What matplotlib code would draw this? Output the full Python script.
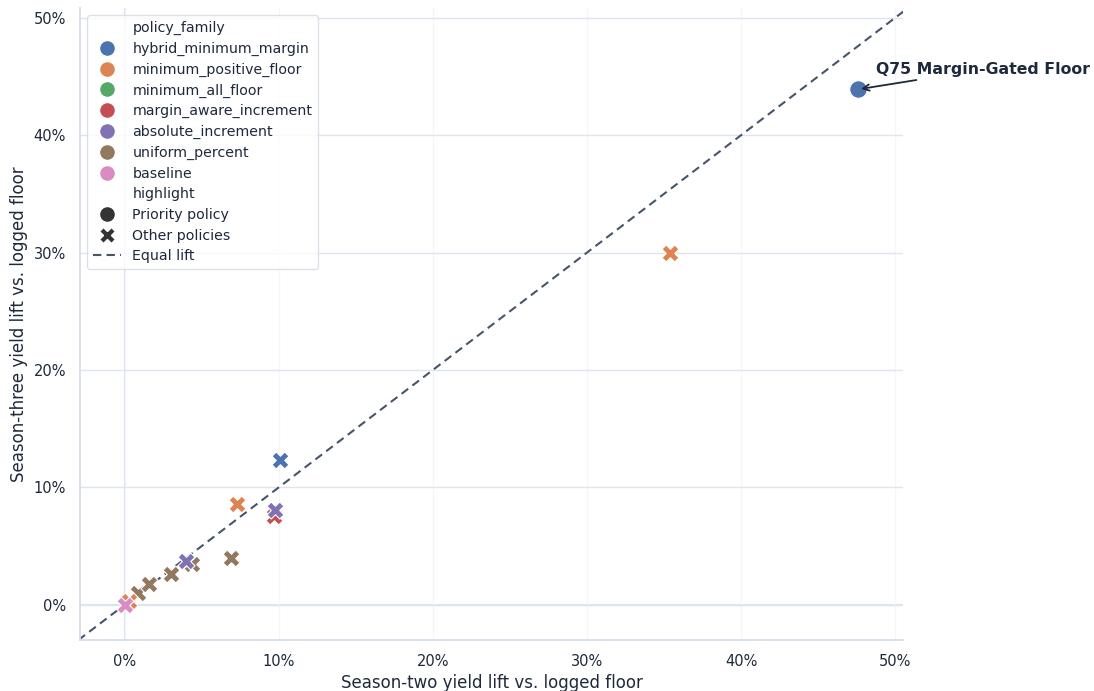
import matplotlib.pyplot as plt
from matplotlib.lines import Line2D
from matplotlib.ticker import FuncFormatter

families = ["hybrid_minimum_margin", "minimum_positive_floor", "minimum_all_floor",
            "margin_aware_increment", "absolute_increment", "uniform_percent", "baseline"]
colors = ["#4C72B0", "#DD8452", "#55A868", "#C44E52", "#8172B3", "#937860", "#DA8BC3"]

# one entry per policy, in drawing order
point_family = ["uniform_percent", "uniform_percent", "uniform_percent", "uniform_percent",
                "uniform_percent", "margin_aware_increment", "absolute_increment",
                "absolute_increment", "minimum_positive_floor", "minimum_positive_floor",
                "hybrid_minimum_margin", "minimum_all_floor", "minimum_positive_floor",
                "baseline", "hybrid_minimum_margin"]
season_two = [0.85, 1.6, 3.0, 4.4, 6.9, 9.7, 9.75, 4.0, 7.3, 35.4, 10.1, 0.0, 0.25, 0.0, 47.6]
season_three = [1.0, 1.8, 2.6, 3.5, 4.0, 7.6, 8.1, 3.7, 8.6, 30.0, 12.3, 0.0, 0.3, 0.0, 43.9]
highlight = ["Other policies"] * 14 + ["Priority policy"]
priority_label = "Q75 Margin-Gated Floor"

text_color = "#1e293b"
fig = plt.figure(figsize=(10.94, 6.91), dpi=100)
ax = fig.add_axes([0.0731, 0.0738, 0.7523, 0.9142])

ax.set_xlim(-2.9, 50.5)
ax.set_ylim(-3.0, 50.8)

# grid and reference lines
ax.set_axisbelow(True)
ax.grid(axis="y", color="#dfe5ef", linewidth=1.0)
ax.grid(axis="x", color="#f5f6f8", linewidth=1.0)
ax.axhline(0, color="#d9e0ec", linewidth=1.3, zorder=0.5)
ax.axvline(0, color="#d6dcee", linewidth=1.5, zorder=0.5)
for side in ["top", "right"]:
    ax.spines[side].set_visible(False)
for side in ["left", "bottom"]:
    ax.spines[side].set_color("#d5ddea")
    ax.spines[side].set_linewidth(1.3)

ax.plot([-3.0, 51.0], [-3.0, 51.0], color="#475569", linestyle="--", linewidth=1.5,
        dashes=(4, 2.5), zorder=1)

color_of = dict(zip(families, colors))
for fam, x, y, hl in zip(point_family, season_two, season_three, highlight):
    if hl == "Priority policy":
        ax.scatter(x, y, s=160, marker="o", color=color_of[fam], edgecolor="white",
                   linewidth=0.8, zorder=3)
    else:
        ax.scatter(x, y, s=150, marker="X", color=color_of[fam], edgecolor="white",
                   linewidth=0.8, zorder=2)

ax.annotate(priority_label, xy=(season_two[-1], season_three[-1]), xytext=(13, 9),
            textcoords="offset points", fontsize=11.3, fontweight="bold", color=text_color,
            ha="left", va="bottom",
            arrowprops=dict(arrowstyle="->", color=text_color, linewidth=1.3))

pct = FuncFormatter(lambda v, p: f"{v:.0f}%")
ax.xaxis.set_major_formatter(pct)
ax.yaxis.set_major_formatter(pct)
ax.set_xticks([0, 10, 20, 30, 40, 50])
ax.set_yticks([0, 10, 20, 30, 40, 50])
ax.tick_params(length=0, pad=10, labelsize=10.5, labelcolor=text_color)
ax.set_xlabel("Season-two yield lift vs. logged floor", fontsize=12, color=text_color, labelpad=4)
ax.set_ylabel("Season-three yield lift vs. logged floor", fontsize=12, color=text_color, labelpad=4)

# legend in seaborn style
blank = Line2D([], [], linestyle="none", marker="")
handles = [blank]
labels = ["policy_family"]
for fam, c in zip(families, colors):
    handles.append(Line2D([], [], linestyle="none", marker="o", markersize=11.5,
                          color=c, markeredgecolor="white"))
    labels.append(fam)
handles.append(blank)
labels.append("highlight")
handles.append(Line2D([], [], linestyle="none", marker="o", markersize=11.5,
                      color="#333333", markeredgecolor="white"))
labels.append("Priority policy")
handles.append(Line2D([], [], linestyle="none", marker="X", markersize=11.5,
                      color="#333333", markeredgecolor="white"))
labels.append("Other policies")
handles.append(Line2D([], [], color="#475569", linestyle="--", linewidth=1.5, dashes=(4, 2.5)))
labels.append("Equal lift")

leg = ax.legend(handles, labels, loc="upper left", fontsize=10.2, frameon=True,
                borderaxespad=0.5, labelspacing=0.47, handletextpad=0.8)
leg.get_frame().set_edgecolor("#d5d9e0")
for t in leg.get_texts():
    t.set_color(text_color)

fig.savefig("out.png", dpi=100)
